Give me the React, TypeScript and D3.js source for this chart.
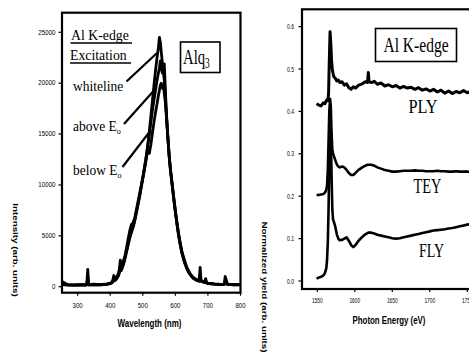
import React from "react";
import * as d3 from "d3";

// ---- left panel: Alq3 emission (intensity vs wavelength) ----
const wavelength = [
  252, 270, 290, 310, 325, 328, 331, 334, 350, 370,
  390, 400, 405, 408, 411, 415, 420, 425, 428, 431,
  434, 440, 445, 450, 455, 460, 465, 470, 475, 480,
  485, 490, 495, 500, 505, 510, 515, 520, 525, 530,
  535, 540, 545, 548, 551, 554, 557, 560, 563, 566,
  569, 572, 575, 578, 581, 585, 590, 595, 600, 605,
  610, 615, 620, 625, 630, 635, 640, 645, 650, 655,
  660, 665, 670, 673, 676, 679, 685, 690, 693, 696,
  700, 720, 740, 750, 753, 756, 760, 780, 800,
];
const whiteline = [
  500, 200, 180, 200, 180, 250, 1700, 200, 250, 200,
  280, 350, 450, 650, 1100, 800, 950, 1300, 1700, 2600,
  1900, 2500, 3000, 3800, 4700, 5500, 6100, 6300, 6700, 7500,
  8300, 9100, 9900, 10700, 11600, 12600, 13800, 15200, 16800, 18400,
  20000, 21500, 22800, 23500, 24500, 24000, 23000, 22000, 21200, 20300,
  18800, 17200, 15600, 14200, 12900, 11500, 10200, 8800, 7500, 6300,
  5200, 4300, 3500, 2900, 2400, 1900, 1600, 1300, 1100, 900,
  800, 700, 650, 600, 1900, 600, 500, 450, 800, 400,
  350, 280, 230, 250, 1000, 700, 250, 200, 220,
];
const aboveE0 = [
  300, 180, 160, 180, 170, 200, 900, 180, 200, 180,
  250, 320, 400, 500, 800, 650, 850, 1150, 1450, 2000,
  1700, 2200, 2800, 3500, 4200, 4900, 5500, 5900, 6500, 7300,
  8100, 8900, 9800, 10700, 11700, 12700, 13800, 15000, 16200, 17400,
  18500, 19500, 20500, 21000, 21500, 22200, 21500, 21000, 21500, 21900,
  19600, 17400, 15700, 14200, 12900, 11500, 10100, 8700, 7400, 6200,
  5100, 4200, 3400, 2800, 2300, 1850, 1500, 1250, 1050, 850,
  750, 650, 600, 550, 1200, 550, 480, 430, 600, 380,
  330, 260, 220, 230, 600, 450, 230, 190, 200,
];
const belowE0 = [
  200, 160, 150, 170, 160, 180, 600, 170, 180, 170,
  230, 300, 380, 450, 650, 600, 780, 1050, 1350, 1800,
  1600, 2100, 2700, 3400, 4100, 4800, 5300, 5800, 6400, 7200,
  8000, 8800, 9700, 10600, 11500, 12400, 13400, 13100, 14000, 15200,
  16300, 17300, 18200, 18800, 19300, 19800, 20000, 19500, 19800, 19000,
  18200, 17000, 15600, 14200, 12800, 11400, 10000, 8600, 7300, 6100,
  5000, 4100, 3300, 2700, 2200, 1800, 1450, 1200, 1000, 820,
  720, 620, 580, 530, 900, 530, 460, 410, 500, 360,
  310, 250, 210, 220, 400, 350, 220, 180, 190,
];
const wlTicks = [300, 400, 500, 600, 700, 800];
const intTicks = [0, 5000, 10000, 15000, 20000, 25000];

// ---- right panel: Al K-edge yields vs photon energy ----
const energy = [
  1549, 1552, 1555, 1558, 1560, 1562, 1563, 1564, 1565, 1566,
  1567, 1568, 1569, 1570, 1571, 1572, 1574, 1576, 1578, 1580,
  1583, 1586, 1589, 1592, 1595, 1598, 1601, 1605, 1610, 1614,
  1617, 1618, 1619, 1622, 1626, 1630, 1635, 1640, 1645, 1650,
  1655, 1660, 1665, 1670, 1675, 1680, 1685, 1690, 1695, 1700,
  1705, 1710, 1715, 1720, 1725, 1730, 1735, 1740, 1745, 1750,
  1755, 1760, 1765, 1770,
];
const ply = [
  0.418, 0.415, 0.413, 0.42, 0.418, 0.425, 0.428, 0.425, 0.44, 0.52,
  0.588, 0.56, 0.52, 0.5, 0.49, 0.482, 0.478, 0.472, 0.474, 0.468,
  0.47, 0.462, 0.465, 0.456, 0.452, 0.458, 0.455, 0.462, 0.465, 0.47,
  0.468, 0.492, 0.47, 0.468, 0.471, 0.464, 0.467, 0.46, 0.463, 0.458,
  0.461, 0.455, 0.459, 0.455, 0.457, 0.452, 0.456, 0.45, 0.453, 0.448,
  0.452, 0.446, 0.45, 0.443, 0.448, 0.442, 0.447, 0.444, 0.449, 0.444,
  0.447, 0.443, 0.446, 0.444,
];
const tey = [
  0.203, 0.203, 0.204, 0.205, 0.208, 0.215, 0.225, 0.26, 0.33, 0.4,
  0.43, 0.41, 0.35, 0.31, 0.3, 0.295, 0.285, 0.275, 0.27, 0.268,
  0.27, 0.268, 0.262, 0.255, 0.25, 0.25, 0.255, 0.262, 0.268, 0.272,
  0.274, 0.274, 0.274, 0.274, 0.272, 0.268, 0.265, 0.262, 0.26, 0.258,
  0.258, 0.259, 0.26, 0.26, 0.26, 0.261, 0.26, 0.26, 0.259, 0.259,
  0.259, 0.26, 0.259, 0.259, 0.258, 0.258, 0.259, 0.258, 0.258, 0.258,
  0.257, 0.257, 0.257, 0.257,
];
const fly = [
  0.006, 0.008, 0.01, 0.013, 0.018, 0.03, 0.05, 0.09, 0.17, 0.28,
  0.38, 0.35, 0.25, 0.17, 0.145, 0.14, 0.128, 0.11, 0.1, 0.096,
  0.097, 0.1, 0.103, 0.095, 0.085, 0.08, 0.085, 0.095, 0.104, 0.11,
  0.113, 0.114, 0.114, 0.114, 0.112, 0.109, 0.107, 0.105, 0.103, 0.101,
  0.1, 0.101, 0.103, 0.105, 0.107, 0.109, 0.111, 0.113, 0.115, 0.117,
  0.119, 0.12, 0.121, 0.122, 0.124, 0.125, 0.127, 0.129, 0.131, 0.133,
  0.134, 0.136, 0.137, 0.138,
];
const eTicks = [1550, 1600, 1650, 1700, 1750];
const yieldTicks = [0, 0.1, 0.2, 0.3, 0.4, 0.5, 0.6];

const SANS = "'Liberation Sans', Arial, sans-serif";
const SERIF = "'Liberation Serif', 'Times New Roman', serif";

// text squeezed horizontally like the scanned figure
const Txt = (p: any) => {
  const { x, y, size, sx = 1, sy = 1, rot = 0, anchor = "start", family = SERIF, weight = "normal", children } = p;
  return (
    <text
      transform={`translate(${x},${y}) rotate(${rot}) scale(${sx},${sy})`}
      fontSize={size}
      fontFamily={family}
      fontWeight={weight}
      textAnchor={anchor}
      fill="#000"
    >
      {children}
    </text>
  );
};

const App = () => {
  // left panel
  const xL = d3.scaleLinear().domain([252, 800]).range([62, 240.5]);
  const yL = d3.scaleLinear().domain([0, 25000]).range([286.7, 32.3]);
  const lineL = (vals: number[]) =>
    d3.line<number>().x((_, i) => xL(wavelength[i])).y((d) => yL(d))(vals) || "";

  // right panel
  const xR = d3.scaleLinear().domain([1550, 1600]).range([317.3, 354.8]);
  const yR = d3.scaleLinear().domain([0, 0.6]).range([281, 26.6]);
  const lineR = (vals: number[]) =>
    d3.line<number>().x((_, i) => xR(energy[i])).y((d) => yR(d))(vals) || "";

  const Lbot = 292.7;
  const Rbot = 289;

  return (
    <svg width={469} height={356} style={{ position: "absolute", left: 0, top: 0, background: "#fff" }}>
      <rect x={0} y={0} width={469} height={356} fill="#fff" />

      {/* ---------- left panel ---------- */}
      <g>
        {[belowE0, aboveE0, whiteline].map((s, i) => (
          <path key={i} d={lineL(s)} fill="none" stroke="#000" strokeWidth={2.8} strokeLinejoin="round" />
        ))}
        <rect x={62} y={12.7} width={178.5} height={Lbot - 12.7} fill="none" stroke="#000" strokeWidth={2.2} />
        {intTicks.map((t) => (
          <g key={t}>
            <line x1={58.5} x2={62} y1={yL(t)} y2={yL(t)} stroke="#000" strokeWidth={1.2} />
            <Txt x={55.5} y={yL(t) + 2.2} size={6.5} family={SANS} anchor="end" sx={0.95}>
              {t}
            </Txt>
          </g>
        ))}
        {wlTicks.map((t) => (
          <g key={t}>
            <line x1={xL(t)} x2={xL(t)} y1={Lbot} y2={Lbot + 3} stroke="#000" strokeWidth={1.2} />
            <Txt x={xL(t)} y={307.8} size={7.6} family={SANS} anchor="middle" sx={0.8}>
              {t}
            </Txt>
          </g>
        ))}
        <Txt x={149.5} y={326.5} size={11.4} sx={0.7} family={SANS} weight="bold" anchor="middle">
          Wavelength (nm)
        </Txt>
        <Txt x={12.5} y={250} size={9.8} sy={0.72} rot={90} family={SANS} weight="bold" anchor="middle">
          Intensity (arb. units)
        </Txt>

        {/* annotations */}
        <Txt x={71} y={40} size={15} sx={0.92}>Al K-edge</Txt>
        <line x1={70.5} x2={132} y1={43} y2={43} stroke="#000" strokeWidth={1.6} />
        <Txt x={70} y={60} size={15} sx={0.92}>Excitation</Txt>
        <line x1={70} x2={131} y1={63} y2={63} stroke="#000" strokeWidth={1.6} />
        <Txt x={73} y={90.5} size={15} sx={0.9}>whiteline</Txt>
        <Txt x={73} y={131} size={15} sx={0.9}>
          above E<tspan fontSize={9} dy={3}>o</tspan>
        </Txt>
        <Txt x={73} y={175} size={15} sx={0.9}>
          below E<tspan fontSize={9} dy={3}>o</tspan>
        </Txt>
        <line x1={126.5} y1={81.5} x2={157} y2={53} stroke="#000" strokeWidth={2.2} />
        <line x1={124} y1={124} x2={153.5} y2={91} stroke="#000" strokeWidth={2.2} />
        <line x1={122.5} y1={167} x2={151} y2={130} stroke="#000" strokeWidth={2.2} />

        <rect x={180.5} y={42} width={39.5} height={30.5} fill="#fff" stroke="#000" strokeWidth={1.6} />
        <Txt x={183} y={64} size={22} sx={0.67}>
          Alq<tspan fontSize={14} dy={4}>3</tspan>
        </Txt>
      </g>

      {/* ---------- right panel ---------- */}
      <g>
        <path d={lineR(fly)} fill="none" stroke="#000" strokeWidth={2.6} strokeLinejoin="round" />
        <path d={lineR(tey)} fill="none" stroke="#000" strokeWidth={2.6} strokeLinejoin="round" />
        <path d={lineR(ply)} fill="none" stroke="#000" strokeWidth={3} strokeLinejoin="round" />
        <rect x={302} y={9.3} width={180} height={Rbot - 9.3} fill="none" stroke="#000" strokeWidth={2.2} />
        {yieldTicks.map((t) => (
          <g key={t}>
            <line x1={298.5} x2={302} y1={yR(t)} y2={yR(t)} stroke="#000" strokeWidth={1.2} />
            <Txt x={294} y={yR(t) + 2.6} size={7.4} family={SANS} anchor="end" sx={0.68}>
              {t.toFixed(1)}
            </Txt>
          </g>
        ))}
        {eTicks.map((t) => (
          <g key={t}>
            <line x1={xR(t)} x2={xR(t)} y1={Rbot} y2={Rbot + 3} stroke="#000" strokeWidth={1.2} />
            <Txt x={xR(t)} y={302.8} size={7.6} family={SANS} anchor="middle" sx={0.64}>
              {t}
            </Txt>
          </g>
        ))}
        <Txt x={389} y={324} size={11.4} sx={0.69} family={SANS} weight="bold" anchor="middle">
          Photon Energy (eV)
        </Txt>
        <Txt x={262} y={287} size={9.8} sy={0.75} rot={90} family={SANS} weight="bold" anchor="middle">
          Normalized yield (arb. units)
        </Txt>

        <rect x={375.5} y={28.5} width={81} height={33} fill="#fff" stroke="#000" strokeWidth={1.6} />
        <Txt x={416} y={52} size={21} sx={0.74} anchor="middle">Al K-edge</Txt>
        <Txt x={423} y={113} size={19} sx={0.86} anchor="middle">PLY</Txt>
        <Txt x={427.5} y={192.5} size={20} sx={0.72} anchor="middle">TEY</Txt>
        <Txt x={431.5} y={257} size={19} sx={0.74} anchor="middle">FLY</Txt>
      </g>
    </svg>
  );
};

export default App;
